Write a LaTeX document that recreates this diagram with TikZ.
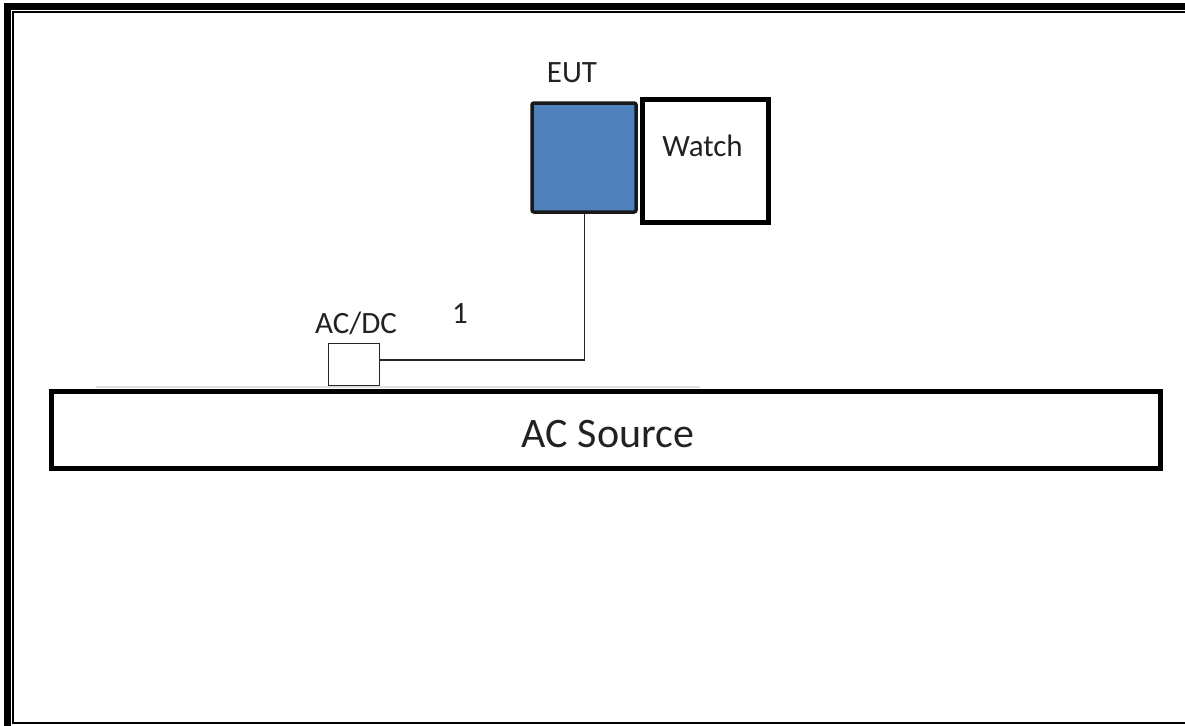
\documentclass[tikz,border=0pt]{standalone}
\usepackage{fontspec}
\setmainfont{Carlito}
\definecolor{eutblue}{HTML}{4F81BD}
\definecolor{txt}{HTML}{222222}
\tikzset{
  lbl/.style={anchor=base, inner sep=0pt, text=txt, font=\fontsize{31}{31}\selectfont},
  biglbl/.style={anchor=base, inner sep=0pt, text=txt, font=\fontsize{42}{42}\selectfont},
  wire/.style={draw=black!85, line width=1.6pt},
}
\begin{document}
\begin{tikzpicture}[x=1pt, y=-1pt]
\useasboundingbox (0,0) rectangle (1185,725);
\clip (0,0) rectangle (1185,725);
\fill[white] (0,0) rectangle (1185,725);
% frame
\draw[line width=7pt] (7.5,740) -- (7.5,7) -- (1200,7);
\draw[line width=2pt] (1200,12.5) -- (13,12.5) -- (13,723) -- (1200,723);
% faint line over the AC source
\draw[black!12, line width=1.2pt] (96,387) -- (700,387);
% AC source
\node[draw=black, line width=5pt, minimum width=1109pt, minimum height=77pt, inner sep=0pt] (acsbox) at (605.5,429.5) {};
\node[biglbl] (acs) at (608,447) {AC Source};
% AC/DC
\node[draw=black!85, line width=1.6pt, minimum width=51pt, minimum height=42pt, inner sep=0pt] (acdc) at (354,364.5) {};
\node[lbl] (acdcl) at (356,333) {AC/DC};
% EUT
\node[draw=black!90, fill=eutblue, line width=3.5pt, rounded corners=2pt, minimum width=104pt, minimum height=109pt, inner sep=0pt] (eut) at (584,157.5) {};
\node[lbl] (eutl) at (572,82) {EUT};
% Watch
\node[draw=black, line width=5pt, minimum width=126pt, minimum height=123pt, inner sep=0pt] (watch) at (705.5,161) {};
\node[lbl] (watchl) at (702.5,156) {Watch};
% cable
\coordinate (bend) at (584.5,360);
\draw[wire] (eut.south -| bend) -- (bend) -- (bend -| acdc.east);
\node[lbl] (one) at (460,323) {1};
\end{tikzpicture}
\end{document}
